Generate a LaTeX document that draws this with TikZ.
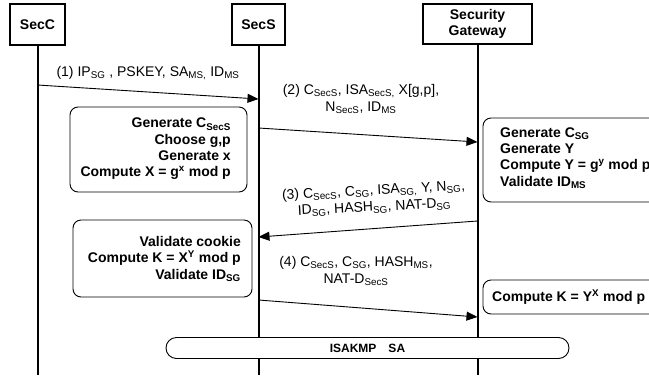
\documentclass[tikz,border=0pt]{standalone}
\usepackage{fontspec}
\setmainfont{Liberation Sans}
\usetikzlibrary{arrows.meta,positioning}
\tikzset{
  actor/.style={draw,line width=2pt,fill=white,align=center,font=\bfseries\fontsize{14}{16}\selectfont},
  life/.style={line width=2pt},
  msg/.style={->,line width=0.9pt},
  msglabel/.style={align=center,font=\fontsize{14}{16.5}\selectfont,inner sep=0pt},
  note/.style={draw,line width=0.9pt,rounded corners=8pt},
  notetext/.style={inner sep=0pt,font=\bfseries\fontsize{14}{16.3}\selectfont}
}
\begin{document}
\begin{tikzpicture}[x=1pt,y=-1pt,>={Triangle[length=11pt,width=9pt]}]
\useasboundingbox (0,0) rectangle (649,376);
\clip (0,0) rectangle (649,376);
% header boxes
\node[actor,minimum width=55pt,minimum height=41pt] (secc) at (37.5,24.5) {SecC};
\node[actor,minimum width=53pt,minimum height=41pt] (secs) at (258.5,24.5) {SecS};
\node[actor,minimum width=109pt,minimum height=40pt] (sg) at (477.5,23.5) {Security\\Gateway};
% lifelines
\coordinate (seccend) at (secc.south |- 0,375);
\coordinate (secsend) at (secs.south |- 0,375);
\coordinate (sgend) at (sg.south |- 0,375);
\draw[life] (secc.south) -- (seccend);
\draw[life] (secs.south) -- (secsend);
\draw[life] (sg.south) -- (sgend);
% message end points
\coordinate (m1a) at (secc.south |- 0,85);  \coordinate (m1b) at (secs.south |- 0,99);
\coordinate (m2a) at (secs.south |- 0,128); \coordinate (m2b) at (sg.south |- 0,142);
\coordinate (m3a) at (sg.south |- 0,221);   \coordinate (m3b) at (secs.south |- 0,237);
\coordinate (m4a) at (secs.south |- 0,300); \coordinate (m4b) at (sg.south |- 0,317);
\draw[msg] (m1a) -- (m1b);
\draw[msg] (m2a) -- (m2b);
\draw[msg] (m3a) -- (m3b);
\draw[msg] (m4a) -- (m4b);
% message labels
\node[msglabel] (l1) at (148,73) {(1) IP\textsubscript{SG} , PSKEY, SA\textsubscript{MS,} ID\textsubscript{MS}};
\node[msglabel] (l2) at (361,99) {(2) C\textsubscript{SecS}, ISA\textsubscript{SecS,} X[g,p],\\N\textsubscript{SecS}, ID\textsubscript{MS}};
\node[msglabel,rotate=3] (l3) at (374,199) {(3) C\textsubscript{SecS}, C\textsubscript{SG}, ISA\textsubscript{SG,} Y, N\textsubscript{SG},\\ID\textsubscript{SG}, HASH\textsubscript{SG}, NAT-D\textsubscript{SG}};
\node[msglabel] (l4) at (356,271) {(4) C\textsubscript{SecS}, C\textsubscript{SG}, HASH\textsubscript{MS},\\NAT-D\textsubscript{SecS}};
% notes
\draw[note] (70,107) rectangle (247,192);
\node[notetext,align=right,anchor=east] (n1) at (231,149) {Generate C\textsubscript{SecS}\\Choose g,p\\Generate x\\Compute X = g\textsuperscript{x} mod p};
\draw[note] (483,118) rectangle (690,202);
\node[notetext,align=left,anchor=west] (n2) at (500,158) {Generate C\textsubscript{SG}\\Generate Y\\Compute Y = g\textsuperscript{y} mod p\\Validate ID\textsubscript{MS}};
\draw[note] (73,220) rectangle (252,297);
\node[notetext,align=right,anchor=east] (n3) at (241,259) {Validate cookie\\Compute K = X\textsuperscript{Y} mod p\\Validate ID\textsubscript{SG}};
\draw[note] (483,280) rectangle (690,314);
\node[notetext,anchor=west] (n4) at (492,297) {Compute K = Y\textsuperscript{X} mod p};
% security association
\node[draw,line width=0.9pt,fill=white,rounded corners=10.5pt,minimum width=403pt,minimum height=21pt,font=\bfseries\fontsize{12}{14}\selectfont] (sa) at (367.5,348) {ISAKMP\quad SA};
\end{tikzpicture}
\end{document}
